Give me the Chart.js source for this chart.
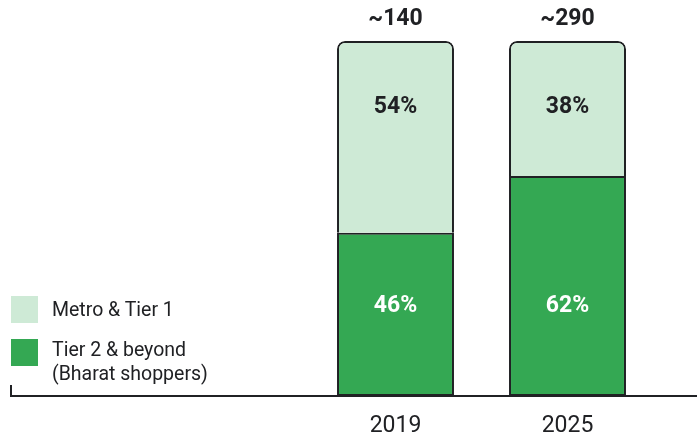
<!DOCTYPE html>
<html>
<head>
<meta charset="utf-8">
<script src="https://cdn.jsdelivr.net/npm/chart.js@4/dist/chart.umd.min.js"></script>
<style>
  html, body { margin: 0; padding: 0; background: #ffffff; }
  #wrap { position: relative; width: 697px; height: 435px; }
  canvas { position: absolute; left: 0; top: 0; }
  .legend { position: absolute; left: 11px; font-family: Roboto, "Open Sans", sans-serif; font-size: 19.5px; color: #202124; }
  .legend .sw { position: absolute; left: 0; width: 27px; height: 27px; }
  .legend .tx { position: absolute; left: 41px; line-height: 24px; white-space: nowrap; }
</style>
</head>
<body>
<div id="wrap">
  <canvas id="c" width="697" height="435"></canvas>
  <div class="legend" id="lg1" style="top:296px;">
    <div class="sw" style="background:#CEEAD6;top:0;"></div>
    <div class="tx" style="top:2px;">Metro &amp; Tier 1</div>
  </div>
  <div class="legend" id="lg2" style="top:339px;">
    <div class="sw" style="background:#34A853;top:0;"></div>
    <div class="tx" style="top:-1px;">Tier 2 &amp; beyond<br>(Bharat shoppers)</div>
  </div>
</div>
<script>
const categories = ['2019', '2025'];
const tier2Share = [46, 62];
const metroShare = [54, 38];
const totalLabels = ['~140', '~290'];
const seriesNames = ['Tier 2 & beyond (Bharat shoppers)', 'Metro & Tier 1'];

const FONT = 'Roboto, "Open Sans", sans-serif';
const INK = '#202124';

const labelPlugin = {
  id: 'labels',
  afterDatasetsDraw(chart) {
    const ctx = chart.ctx;
    const bottomMeta = chart.getDatasetMeta(0);
    const topMeta = chart.getDatasetMeta(1);
    ctx.save();
    ctx.textAlign = 'center';
    ctx.textBaseline = 'middle';
    categories.forEach((c, i) => {
      const tb = topMeta.data[i];
      const bb = bottomMeta.data[i];
      ctx.font = 'bold 23px ' + FONT;
      ctx.fillStyle = INK;
      ctx.fillText(totalLabels[i], tb.x, tb.y - 22);
      ctx.fillText(metroShare[i] + '%', tb.x, tb.y + 66);
      ctx.fillStyle = '#ffffff';
      ctx.fillText(tier2Share[i] + '%', bb.x, bb.base - 90);
    });
    ctx.restore();
  },
  afterDraw(chart) {
    const ctx = chart.ctx;
    const y = chart.chartArea.bottom;
    ctx.save();
    ctx.strokeStyle = INK;
    ctx.lineWidth = 2;
    ctx.beginPath();
    ctx.moveTo(11, y - 11);
    ctx.lineTo(11, y);
    ctx.lineTo(chart.width, y);
    ctx.stroke();
    ctx.restore();
  }
};

new Chart(document.getElementById('c'), {
  type: 'bar',
  data: {
    labels: categories,
    datasets: [
      {
        label: seriesNames[0],
        data: tier2Share,
        backgroundColor: '#34A853',
        borderColor: INK,
        borderWidth: 2,
        borderSkipped: false
      },
      {
        label: seriesNames[1],
        data: metroShare,
        backgroundColor: '#CEEAD6',
        borderColor: INK,
        borderWidth: 2,
        borderSkipped: 'start',
        borderRadius: { topLeft: 8, topRight: 8, bottomLeft: 0, bottomRight: 0 }
      }
    ]
  },
  options: {
    responsive: false,
    animation: false,
    devicePixelRatio: 1,
    datasets: { bar: { barPercentage: 0.68, categoryPercentage: 1 } },
    layout: { padding: { left: 309.5, right: 43.5, top: 41, bottom: 0 } },
    plugins: { legend: { display: false }, tooltip: { enabled: false } },
    scales: {
      x: {
        stacked: true,
        grid: { display: false, drawTicks: false },
        border: { display: false },
        ticks: { color: INK, font: { family: FONT, size: 23 }, padding: 16 },
        afterFit(scale) { scale.height = 39; }
      },
      y: {
        stacked: true,
        display: false,
        min: 0,
        max: 100
      }
    }
  },
  plugins: [labelPlugin]
});
</script>
</body>
</html>
